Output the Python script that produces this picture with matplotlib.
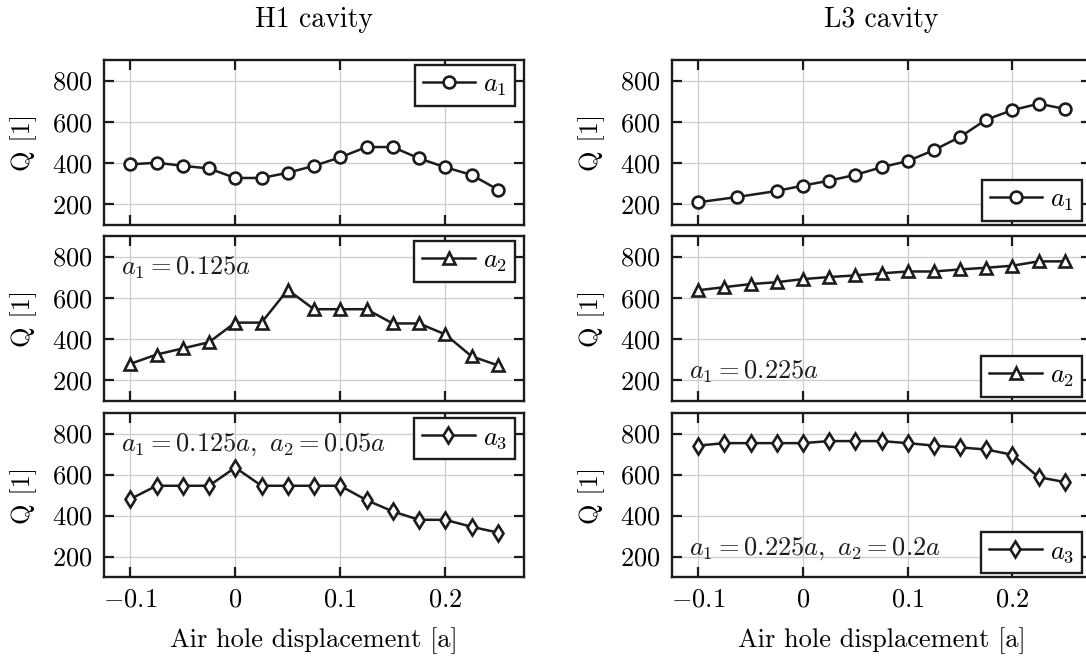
import matplotlib
matplotlib.use('Agg')
import matplotlib.pyplot as plt
from matplotlib.ticker import FixedLocator, FuncFormatter

plt.rcParams['font.family'] = 'serif'
plt.rcParams['font.serif'] = ['cmr10']
plt.rcParams['mathtext.fontset'] = 'cm'
plt.rcParams['axes.unicode_minus'] = False

# %% data
x_full = [-0.1, -0.075, -0.05, -0.025, 0.0, 0.025, 0.05, 0.075, 0.1,
          0.125, 0.15, 0.175, 0.2, 0.225, 0.25]
x_l3_a1 = [-0.1, -0.0625, -0.025, 0.0, 0.025, 0.05, 0.075, 0.1,
           0.125, 0.15, 0.175, 0.2, 0.225, 0.25]

h1_a1 = [394, 402, 387, 374, 328, 328, 353, 387, 428, 478, 478, 423, 380, 343, 272]
h1_a2 = [280, 325, 355, 385, 480, 480, 639, 545, 545, 545, 476, 476, 423, 317, 273]
h1_a3 = [480, 545, 545, 545, 634, 545, 545, 545, 545, 475, 420, 379, 379, 345, 317]

l3_a1 = [210, 236, 265, 291, 315, 343, 380, 410, 463, 527, 611, 657, 688, 663]
l3_a2 = [637, 652, 667, 676, 691, 701, 709, 719, 728, 728, 738, 746, 756, 777, 777]
l3_a3 = [741, 753, 753, 753, 753, 763, 763, 763, 753, 741, 732, 722, 696, 587, 563]

col_titles = ['H1 cavity', 'L3 cavity']
labels = ['$a_1$', '$a_2$', '$a_3$']
markers = ['o', '^', 'd']
notes_h1 = [None, '$a_1 = 0.125a$', '$a_1 = 0.125a,\\ a_2 = 0.05a$']
notes_l3 = [None, '$a_1 = 0.225a$', '$a_1 = 0.225a,\\ a_2 = 0.2a$']

xticks = [-0.1, 0.0, 0.1, 0.2]
yticks = [200, 400, 600, 800]

# %% layout (pixels)
W, H = 1086, 657
fig = plt.figure(figsize=(W / 100, H / 100), dpi=100)

col_x = [(104, 524), (672, 1091)]
row_y = [(60, 225), (236, 401), (413, 577)]

FS = 19
LC = '#1c1c1c'

def fmt(v, pos):
    return '$%g$' % round(v, 3)

columns = [
    (x_full, x_full, x_full, [h1_a1, h1_a2, h1_a3], notes_h1),
    (x_l3_a1, x_full, x_full, [l3_a1, l3_a2, l3_a3], notes_l3),
]

for c, (xa, xb, xc, series, notes) in enumerate(columns):
    xs = [xa, xb, xc]
    x0, x1 = col_x[c]
    for r in range(3):
        y0, y1 = row_y[r]
        ax = fig.add_axes([x0 / W, 1 - y1 / H, (x1 - x0) / W, (y1 - y0) / H])
        ax.plot(xs[r], series[r], color=LC, lw=1.8, marker=markers[r],
                ms=8.5, mfc='white', mec=LC, mew=1.9,
                label=labels[r], zorder=3)
        ax.set_xlim(-0.125, 0.275)
        ax.set_ylim(100, 900)
        ax.xaxis.set_major_locator(FixedLocator(xticks))
        ax.yaxis.set_major_locator(FixedLocator(yticks))
        ax.xaxis.set_major_formatter(FuncFormatter(fmt))
        ax.yaxis.set_major_formatter(FuncFormatter(fmt))
        ax.grid(True, color='#cccccc', lw=0.9, zorder=0)
        ax.set_axisbelow(True)
        ax.tick_params(direction='in', length=7.5, width=1.6, color=LC,
                       top=True, right=True, labelsize=FS, pad=8)
        if r < 2:
            ax.tick_params(labelbottom=False)
        else:
            ax.set_xlabel('Air hole displacement [a]', fontsize=FS, labelpad=11)
        for sp in ax.spines.values():
            sp.set_linewidth(1.7)
            sp.set_color(LC)
        ax.set_ylabel('Q [1]', fontsize=FS, labelpad=11)
        if r == 0:
            ax.set_title(col_titles[c], fontsize=20, pad=24)

        if c == 0:
            loc, anchor = 'upper right', (1 - 9 / 420, 1 - 5 / 165)
        else:
            loc, anchor = 'lower right', (1 - 9 / 419, 4 / 165)
        leg = ax.legend(loc=loc, bbox_to_anchor=anchor, borderaxespad=0,
                        fontsize=FS, handlelength=2.0, handletextpad=0.3,
                        borderpad=0.3, fancybox=False, framealpha=1,
                        edgecolor=LC, numpoints=1)
        leg.get_frame().set_linewidth(1.7)

        if notes[r] is not None:
            ny = 0.806 if c == 0 else 0.175
            ax.text(0.04, ny, notes[r], transform=ax.transAxes, fontsize=FS,
                    ha='left', va='center', color=LC)

fig.savefig('out.png', dpi=100)
